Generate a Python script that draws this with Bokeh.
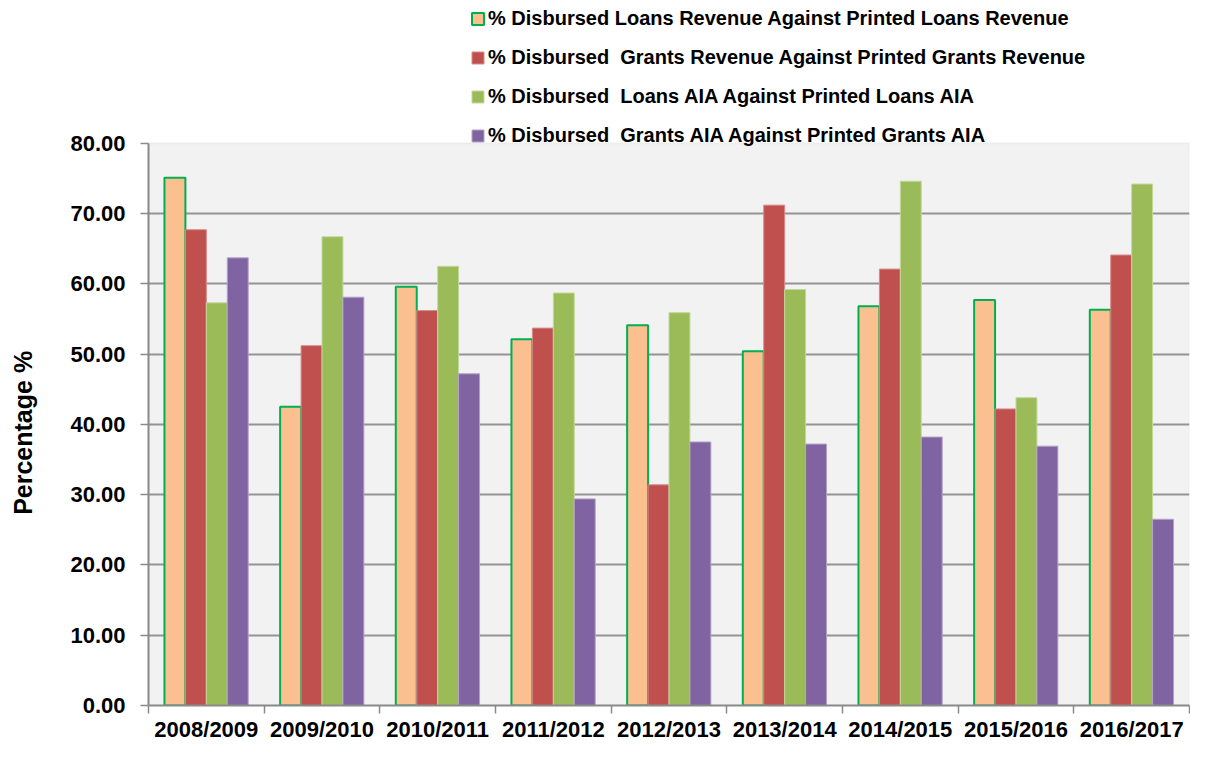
import numpy as np
from bokeh.plotting import figure
from bokeh.models import (ColumnDataSource, Range1d, FixedTicker, Legend, LegendItem,
                          PrintfTickFormatter, CustomJSTickFormatter, BoxAnnotation)
from bokeh.embed import file_html
from bokeh.resources import INLINE

categories = ["2008/2009", "2009/2010", "2010/2011", "2011/2012", "2012/2013",
              "2013/2014", "2014/2015", "2015/2016", "2016/2017"]
loans_revenue = [75.1, 42.5, 59.6, 52.1, 54.1, 50.4, 56.8, 57.7, 56.3]
grants_revenue = [67.7, 51.2, 56.2, 53.7, 31.4, 71.2, 62.1, 42.2, 64.1]
loans_aia = [57.3, 66.7, 62.5, 58.7, 55.9, 59.2, 74.6, 43.8, 74.2]
grants_aia = [63.7, 58.1, 47.2, 29.4, 37.5, 37.2, 38.2, 36.9, 26.5]

series_labels = [
    "% Disbursed Loans Revenue Against Printed Loans Revenue",
    "% Disbursed  Grants Revenue Against Printed Grants Revenue",
    "% Disbursed  Loans AIA Against Printed Loans AIA",
    "% Disbursed  Grants AIA Against Printed Grants AIA",
]
series_values = [loans_revenue, grants_revenue, loans_aia, grants_aia]
fill_colors = ["#FAC090", "#C0504D", "#9BBB59", "#8064A2"]
line_colors = ["#00B050", "#D88A88", "#C3D89B", "#B3A2C7"]
line_widths = [2, 1, 1, 1]

y_ticks = [0, 10, 20, 30, 40, 50, 60, 70, 80]
y_max = 80
y_view_top = 100.32   # extra room above the plotting area for the legend

FONT = "Liberation Sans"
AXIS_GRAY = "#8a8a8a"

p = figure(width=1190, height=744, output_backend="svg", toolbar_location=None,
           x_range=Range1d(0, len(categories)), y_range=Range1d(0, y_view_top),
           min_border_left=148, min_border_right=1, min_border_top=0,
           min_border_bottom=38)
p.background_fill_color = "white"
p.border_fill_color = "white"
p.outline_line_color = None

# grey plotting area 0..80 with light border
p.add_layout(BoxAnnotation(bottom=0, top=y_max, fill_color="#f2f2f2", fill_alpha=1,
                           line_color="#dcdcd4", line_width=2, level="image"))

bar_w = 0.181
idx = np.arange(len(categories))
renderers = []
for k, (vals, fc, lc, lw) in enumerate(zip(series_values, fill_colors, line_colors, line_widths)):
    src = ColumnDataSource(dict(x=idx + 0.5 + (k - 1.5) * bar_w, top=vals))
    r = p.vbar(x="x", top="top", bottom=0, width=bar_w, source=src,
               fill_color=fc, line_color=lc, line_width=lw)
    renderers.append(r)

# grid
p.xgrid.visible = False
p.ygrid.ticker = FixedTicker(ticks=y_ticks[1:-1])
p.ygrid.grid_line_color = "#949494"
p.ygrid.grid_line_width = 2

# y axis (line limited to 0..80; label padded so it sits centred on that span)
ya = p.yaxis[0]
ya.bounds = (0, y_max)
ya.ticker = FixedTicker(ticks=y_ticks)
ya.formatter = PrintfTickFormatter(format="%.2f")
ya.major_tick_out = 8
ya.major_tick_in = 0
ya.minor_tick_line_color = None
ya.axis_line_color = AXIS_GRAY
ya.axis_line_width = 2
ya.major_tick_line_color = AXIS_GRAY
ya.major_tick_line_width = 1.5
ya.major_label_text_font = FONT
ya.major_label_text_font_style = "bold"
ya.major_label_text_font_size = "22px"
ya.major_label_text_color = "black"
ya.major_label_standoff = 15
ya.axis_label = "Percentage %" + "\u00a0" * 23
ya.axis_label_text_font = FONT
ya.axis_label_text_font_style = "bold"
ya.axis_label_text_font_size = "25px"
ya.axis_label_text_color = "black"
ya.axis_label_standoff = 30

# x axis: labels centred in each category, ticks on category boundaries
xa = p.xaxis[0]
xa.ticker = FixedTicker(ticks=list(idx + 0.5), minor_ticks=list(range(len(categories) + 1)))
xa.formatter = CustomJSTickFormatter(args=dict(labels=categories),
                                     code="return labels[Math.floor(tick)] || '';")
xa.major_tick_out = 0
xa.major_tick_in = 0
xa.major_tick_line_color = None
xa.minor_tick_out = 8
xa.minor_tick_in = 0
xa.minor_tick_line_color = AXIS_GRAY
xa.minor_tick_line_width = 1.5
xa.axis_line_color = AXIS_GRAY
xa.axis_line_width = 2
xa.major_label_text_font = FONT
xa.major_label_text_font_style = "bold"
xa.major_label_text_font_size = "22px"
xa.major_label_text_color = "black"
xa.major_label_standoff = 3

legend = Legend(items=[LegendItem(label=lab, renderers=[r]) for lab, r in zip(series_labels, renderers)],
                location=(322, 558), orientation="vertical")
legend.label_text_font = FONT
legend.label_text_font_style = "bold"
legend.label_text_font_size = "20px"
legend.label_text_color = "black"
legend.glyph_width = 15
legend.glyph_height = 15
legend.label_standoff = 3
legend.label_height = 22
legend.spacing = 16
legend.padding = 0
legend.margin = 0
legend.background_fill_alpha = 0
legend.border_line_color = None
p.add_layout(legend, "center")

open("out.html", "w").write(file_html(p, INLINE))
